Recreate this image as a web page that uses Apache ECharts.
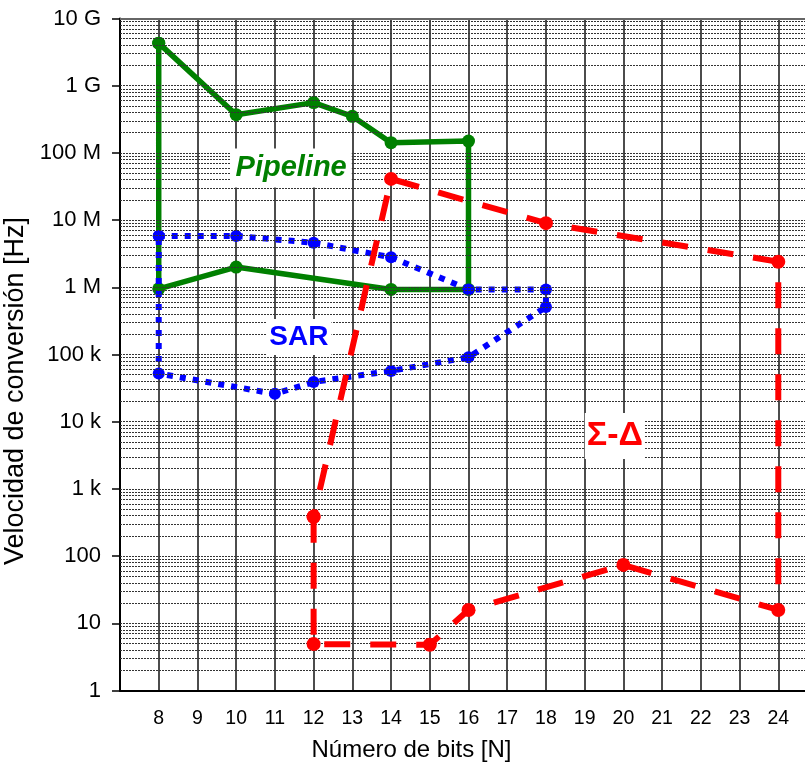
<!DOCTYPE html>
<html>
<head>
<meta charset="utf-8">
<script src="https://cdn.jsdelivr.net/npm/echarts@6/dist/echarts.min.js"></script>
<style>
  html, body { margin: 0; padding: 0; background: #fff; }
  #chart { width: 805px; height: 765px; }
</style>
</head>
<body>
<div id="chart"></div>
<script>
// Resolution (bits) on x, conversion rate (Hz) on a log y axis.
const bitTicks = [8, 9, 10, 11, 12, 13, 14, 15, 16, 17, 18, 19, 20, 21, 22, 23, 24];
const hzTickLabels = ['1', '10', '100', '1 k', '10 k', '100 k', '1 M', '10 M', '100 M', '1 G', '10 G'];

// Pipeline region outline
const pipelineBits = [8, 10, 12, 13, 14, 16, 16, 14, 10, 8, 8];
const pipelineHz = [4.3e9, 3.7e8, 5.6e8, 3.5e8, 1.42e8, 1.5e8, 0.93e6, 0.93e6, 2.0e6, 0.95e6, 4.3e9];

// SAR region outline
const sarBits = [8, 10, 12, 14, 16, 18, 18, 16, 14, 12, 11, 8, 8];
const sarHz = [5.8e6, 5.8e6, 4.6e6, 2.8e6, 0.93e6, 0.93e6, 5.1e5, 9.1e4, 5.7e4, 3.9e4, 2.6e4, 5.2e4, 5.8e6];

// Sigma-delta region outline
const sdBits = [12, 12, 15, 16, 20, 24, 24, 18, 14, 12];
const sdHz = [385, 4.9, 4.8, 15.8, 74, 15.8, 2.4e6, 9.0e6, 4.1e7, 385];

function pairs(xs, ys) { return xs.map((x, i) => [x, ys[i]]); }

// Dotted horizontal rules at 1..9 x 10^k
const ruleValues = [];
for (let k = 0; k < 10; k++) {
  for (let m = 1; m <= 9; m++) {
    if (k === 0 && m === 1) continue;
    ruleValues.push(m * Math.pow(10, k));
  }
}

const FONT = '"Liberation Sans", Arial, sans-serif';

const chart = echarts.init(document.getElementById('chart'), null, { renderer: 'canvas' });

function regionLabel(text, coord, color, size, italic, pad) {
  return {
    symbol: 'circle',
    symbolSize: 0,
    silent: true,
    data: [{ coord: coord }],
    label: {
      show: true,
      position: 'inside',
      formatter: text,
      color: color,
      fontFamily: FONT,
      fontWeight: 'bold',
      fontStyle: italic ? 'italic' : 'normal',
      fontSize: size,
      backgroundColor: '#fff',
      padding: pad
    },
    z: 20
  };
}

chart.setOption({
  backgroundColor: '#fff',
  animation: false,
  // the plot runs one unit past 24, slightly beyond the page's right edge
  grid: { left: 120, top: 18.5, width: 697, height: 672, containLabel: false, outerBoundsMode: 'none' },
  xAxis: {
    type: 'value',
    min: 7,
    max: 25,
    interval: 1,
    name: 'Número de bits [N]',
    nameLocation: 'middle',
    nameGap: 48,
    nameTextStyle: { fontFamily: FONT, fontSize: 24, color: '#000', padding: [0, 114, 0, 0] },
    axisLine: { lineStyle: { color: '#000', width: 2 } },
    axisTick: { show: false },
    axisLabel: {
      fontFamily: FONT, fontSize: 19.5, color: '#000', margin: 18,
      formatter: v => (bitTicks.indexOf(v) >= 0 ? String(v) : '')
    },
    splitLine: { show: true, lineStyle: { color: '#111', width: 1.5, type: 'solid' } }
  },
  yAxis: {
    type: 'log',
    logBase: 10,
    min: 1,
    max: 1e10,
    interval: 1,
    name: 'Velocidad de conversión [Hz]',
    nameLocation: 'middle',
    nameRotate: 90,
    nameGap: 76,
    nameTextStyle: { fontFamily: FONT, fontSize: 27, color: '#000', padding: [0, 73, 0, 0] },
    axisLine: { show: true, lineStyle: { color: '#000', width: 2 } },
    axisTick: { show: true, inside: false, length: 8, lineStyle: { color: '#000', width: 1.5 } },
    axisLabel: {
      fontFamily: FONT, fontSize: 22, color: '#000', margin: 19,
      formatter: v => {
        const e = Math.round(Math.log10(v));
        return hzTickLabels[e] !== undefined ? hzTickLabels[e] : '';
      }
    },
    splitLine: { show: false }
  },
  series: [
    {
      // horizontal rules of the log grid
      type: 'line',
      data: [],
      silent: true,
      z: 1,
      markLine: {
        silent: true,
        symbol: 'none',
        label: { show: false },
        animation: false,
        lineStyle: { color: '#333', width: 1, type: [2, 1] },
        data: ruleValues.map(v => ({ yAxis: v })).concat([
          { yAxis: 1e10, lineStyle: { color: '#666', width: 2, type: 'solid' } }
        ])
      }
    },
    {
      name: 'Pipeline',
      type: 'line',
      data: pairs(pipelineBits, pipelineHz),
      symbol: 'circle',
      symbolSize: 13,
      showAllSymbol: true,
      itemStyle: { color: '#008000' },
      lineStyle: { color: '#008000', width: 5.5, type: 'solid' },
      z: 3,
      markPoint: regionLabel('Pipeline', [11.42, 5.96e7], '#008000', 29, true, [5, 5])
    },
    {
      name: 'SAR',
      type: 'line',
      data: pairs(sarBits, sarHz),
      symbol: 'circle',
      symbolSize: 12,
      showAllSymbol: true,
      itemStyle: { color: '#0000ff' },
      lineStyle: { color: '#0000ff', width: 6, type: [6, 7], cap: 'butt' },
      z: 4,
      markPoint: regionLabel('SAR', [11.62, 1.82e5], '#0000ff', 28, false, [4, 3])
    },
    {
      name: 'Σ-Δ',
      type: 'line',
      data: pairs(sdBits, sdHz),
      symbol: 'circle',
      symbolSize: 14,
      showAllSymbol: true,
      itemStyle: { color: '#ff0000' },
      lineStyle: { color: '#ff0000', width: 6, type: [26, 20], cap: 'butt' },
      z: 5,
      markPoint: regionLabel('Σ-Δ', [19.78, 6.13e3], '#ff0000', 34, false, [6, 2])
    }
  ]
});
</script>
</body>
</html>
